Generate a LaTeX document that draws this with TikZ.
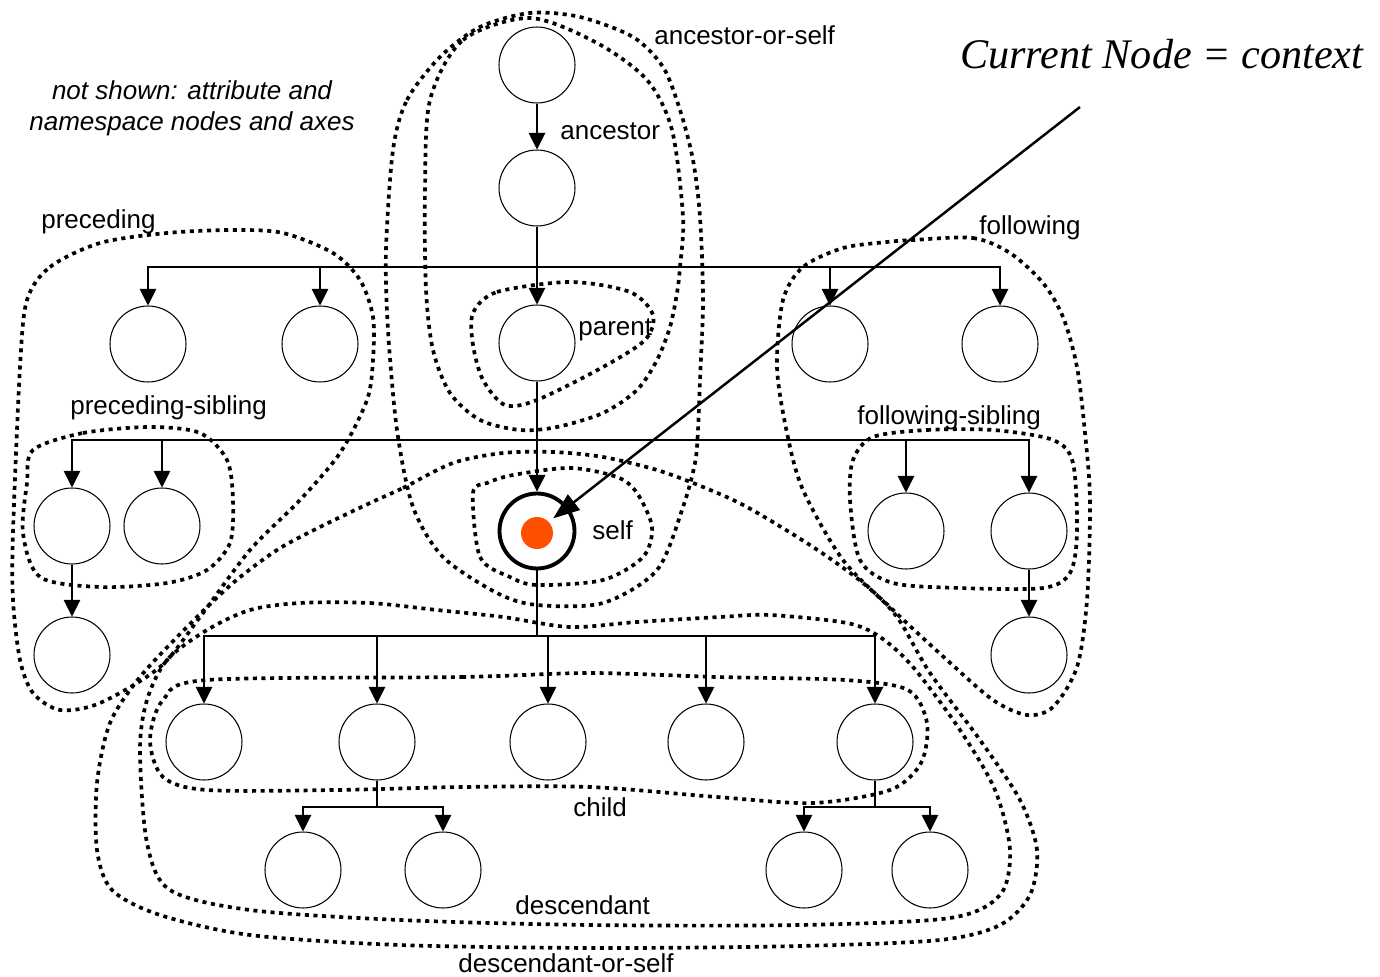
\documentclass[tikz,border=0pt]{standalone}
\usepackage{fontspec}
\setmainfont{Liberation Sans}
\newfontfamily\serifit{Liberation Serif}
\usepackage{tikz}
\usetikzlibrary{arrows.meta}
\definecolor{selfdot}{HTML}{FF5000}

\begin{document}
\begin{tikzpicture}[x=0.02cm, y=-0.02cm,
  nd/.style={circle, draw, line width=0.6pt, minimum size=1.52cm, inner sep=0pt},
  arr/.style={line width=0.6pt, -{Triangle[length=9.5pt,width=9.5pt]}},
  ln/.style={line width=0.6pt},
  axis/.style={line width=2.1pt, dash pattern=on 2.3pt off 2.6pt},
  lbl/.style={anchor=base west, inner sep=0pt, font=\fontsize{14.8}{17.6}\selectfont}]
\useasboundingbox (0,0) rectangle (1380,977);

% ancestors, parent, self
\node[nd] (a1) at (537,65) {};
\node[nd] (a2) at (537,188) {};
\node[nd] (par) at (537,343) {};
\node[nd, line width=2.2pt, minimum size=1.5cm] (self) at (537,531) {};
\node[circle, fill=selfdot, minimum size=0.64cm, inner sep=0pt] (dot) at (537,533) {};

% preceding and following
\node[nd] (pr1) at (148,344) {};
\node[nd] (pr2) at (320,344) {};
\node[nd] (fo1) at (830,344) {};
\node[nd] (fo2) at (1000,344) {};

% siblings
\node[nd] (ps1) at (72,526) {};
\node[nd] (ps2) at (162,526) {};
\node[nd] (ps3) at (72,655) {};
\node[nd] (fs1) at (906,531) {};
\node[nd] (fs2) at (1029,531) {};
\node[nd] (fs3) at (1029,655) {};

% children and grandchildren
\foreach \x [count=\i] in {204,377,548,706,875}
  \node[nd] (c\i) at (\x,742) {};
\foreach \x [count=\i] in {303,443,804,930}
  \node[nd] (g\i) at (\x,870) {};

% tree edges
\coordinate (b1) at (537,267);
\coordinate (b2) at (537,440);
\coordinate (b3) at (537,636);
\coordinate (b4) at (377,807);
\coordinate (b5) at (875,807);
\draw[arr] (a1) -- (a2);
\draw[arr] (a2) -- (par);
\foreach \n in {pr1,pr2,fo1,fo2}
  \draw[arr] (b1) -| (\n);
\draw[arr] (par) -- (self);
\foreach \n in {ps1,ps2,fs1,fs2}
  \draw[arr] (b2) -| (\n);
\draw[arr] (ps1) -- (ps3);
\draw[arr] (fs2) -- (fs3);
\draw[ln] (self) -- (b3);
\foreach \i in {1,...,5}
  \draw[arr] (b3) -| (c\i);
\draw[ln] (c2) -- (b4);
\draw[arr] (b4) -| (g1);
\draw[arr] (b4) -| (g2);
\draw[ln] (c5) -- (b5);
\draw[arr] (b5) -| (g3);
\draw[arr] (b5) -| (g4);

% axes
\draw[axis] plot[smooth cycle] coordinates {(393,150) (407,100) (440,57) (480,27) (530,13) (580,17) (633,37) (663,67) (680,110) (693,160) (700,217) (703,300) (700,380) (698,430) (695,463) (683,507) (657,570) (603,603) (537,605) (497,593) (443,557) (413,507) (397,430) (388,330) (386,250)};
\draw[axis] plot[smooth cycle] coordinates {(430,100) (463,40) (530,18) (597,43) (647,80) (672,130) (683,217) (680,267) (677,293) (670,327) (657,360) (637,390) (603,413) (557,427) (520,430) (480,420) (450,393) (433,350) (426,290) (425,190)};
\draw[axis] plot[smooth cycle] coordinates {(473,313) (497,292) (570,282) (630,292) (653,315) (645,340) (603,367) (537,400) (505,405) (483,380) (473,345)};
\draw[axis] plot[smooth cycle] coordinates {(473,493) (480,557) (510,577) (537,585) (603,580) (643,557) (652,527) (637,493) (617,477) (570,468) (513,475) (487,483)};
\draw[axis] plot[smooth cycle] coordinates {(27,300) (50,267) (100,243) (167,233) (233,230) (283,233) (333,253) (360,280) (373,317) (373,360) (367,400) (340,453) (300,500) (250,550) (200,617) (160,667) (100,703) (60,710) (33,693) (20,660) (13,600) (13,533) (20,367)};
\draw[axis] plot[smooth cycle] coordinates {(33,450) (83,433) (150,427) (200,433) (227,460) (233,500) (230,543) (207,570) (167,583) (100,587) (40,577) (23,533) (27,483)};
\draw[axis] plot[smooth cycle] coordinates {(913,240) (973,238) (1010,253) (1043,283) (1063,317) (1077,367) (1085,433) (1090,500) (1087,600) (1077,667) (1053,707) (1027,715) (993,700) (947,660) (893,610) (843,560) (803,490) (787,433) (777,367) (783,300) (803,267) (843,248) (887,242)};
\draw[axis] plot[smooth cycle] coordinates {(873,437) (927,430) (993,430) (1053,440) (1073,463) (1077,533) (1070,573) (1043,588) (960,588) (893,583) (860,560) (850,500) (853,460)};
\draw[axis] plot[smooth cycle] coordinates {(207,680) (462,677) (590,673) (717,677) (845,680) (908,690) (927,723) (921,763) (890,790) (813,803) (717,797) (590,787) (462,787) (335,790) (207,790) (163,777) (150,740) (163,700)};
\draw[axis] plot[smooth cycle] coordinates {(300,603) (370,603) (437,610) (503,617) (570,627) (637,622) (720,617) (770,615) (847,623) (880,637) (913,667) (960,730) (995,790) (1010,850) (1000,895) (950,918) (800,925) (590,925) (400,920) (250,910) (170,890) (147,843) (140,750) (147,700) (167,660) (207,630) (250,610)};
\draw[axis] plot[smooth cycle] coordinates {(370,503) (403,488) (453,463) (503,453) (553,452) (603,457) (657,470) (703,487) (747,507) (813,547) (863,583) (897,617) (930,673) (980,740) (1020,800) (1037,850) (1030,895) (1000,925) (940,940) (800,946) (600,948) (400,945) (250,935) (160,915) (112,890) (97,850) (97,783) (110,723) (140,677) (187,627) (233,583) (277,550) (320,527)};

% labels
\node[lbl] (laos) at (654,44) {ancestor-or-self};
\node[lbl] (lanc) at (560,139) {ancestor};
\node[lbl] (lpar) at (578,335) {parent};
\node[lbl] (lself) at (592,539) {self};
\node[lbl] (lpre) at (41,228) {preceding};
\node[lbl] (lfol) at (979,234) {following};
\node[lbl] (lpsib) at (70,414) {preceding-sibling};
\node[lbl] (lfsib) at (857,424) {following-sibling};
\node[lbl] (lchild) at (573,816) {child};
\node[lbl] (ldesc) at (515,914) {descendant};
\node[lbl] (ldos) at (458,972) {descendant-or-self};
\node[align=center, anchor=north, inner sep=0pt, font=\fontsize{14.8}{17.6}\selectfont\itshape] (note) at (192,80) {not shown: attribute and\\namespace nodes and axes};

% current node pointer
\node[anchor=base west, inner sep=0pt, font=\serifit\itshape\fontsize{24}{28}\selectfont] (title) at (960,68) {Current Node = context};
\coordinate (ptr) at (1080,107);
\draw[line width=1.4pt, -{Triangle[length=15pt,width=11pt]}, shorten >=11.7pt] (ptr) -- (self.center);
\end{tikzpicture}
\end{document}
